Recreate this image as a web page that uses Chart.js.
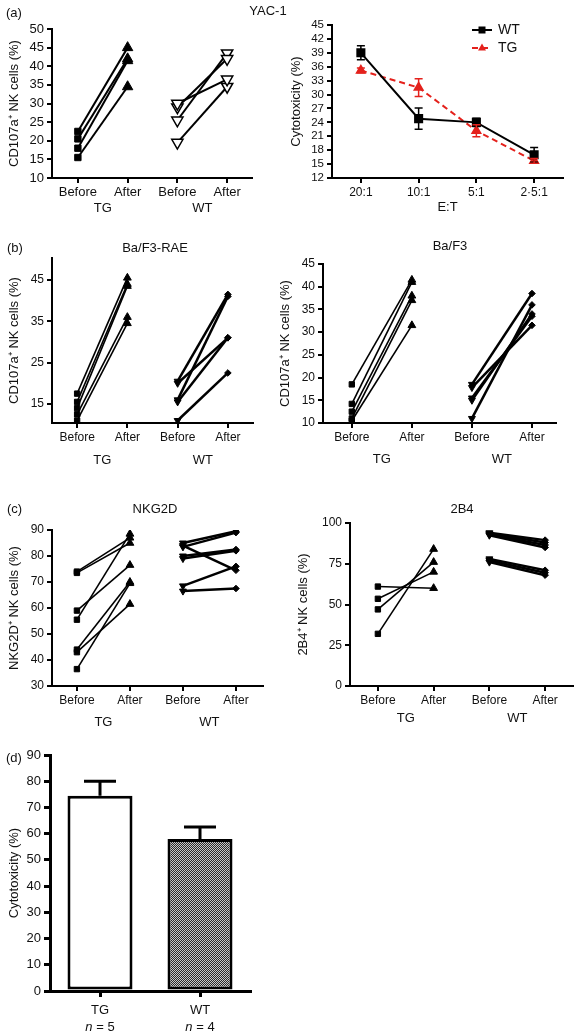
<!DOCTYPE html>
<html>
<head>
<meta charset="utf-8">
<script src="https://cdn.jsdelivr.net/npm/chart.js@4.4.0/dist/chart.umd.min.js"></script>
<style>
  body { margin: 0; background: #fff; width: 576px; height: 1033px; position: relative; overflow: hidden;
         font-family: "Liberation Sans", Arial, sans-serif; }
  canvas { position: absolute; }
  .lbl { position: absolute; font-size: 13px; color: #111; white-space: nowrap; line-height: 1;
         transform: translateY(-50%); z-index: 2; }
  .c { transform: translate(-50%, -50%); }
</style>
</head>
<body>
<canvas id="yacPairs"></canvas>
<canvas id="yacCyto"></canvas>
<canvas id="raePairs"></canvas>
<canvas id="baPairs"></canvas>
<canvas id="nkgPairs"></canvas>
<canvas id="b4Pairs"></canvas>
<canvas id="killBars"></canvas>

<div class="lbl" style="left:6px;top:12px">(a)</div>
<div class="lbl c" style="left:268px;top:10px">YAC-1</div>
<div class="lbl" style="left:7px;top:247px">(b)</div>
<div class="lbl c" style="left:155px;top:247px">Ba/F3-RAE</div>
<div class="lbl c" style="left:450px;top:245px">Ba/F3</div>
<div class="lbl" style="left:7px;top:508px">(c)</div>
<div class="lbl c" style="left:155px;top:508px">NKG2D</div>
<div class="lbl c" style="left:462px;top:508px">2B4</div>
<div class="lbl" style="left:6px;top:757px">(d)</div>

<script>
// ---- data ----
const phaseLabels = ['Before', 'After', 'Before', 'After'];
const groupNames = ['TG', 'WT'];

// (a) YAC-1, CD107a+ NK cells (%)
const yacTgBefore = [22.5, 20.5, 18, 15.5];
const yacTgAfter  = [45, 42, 41.5, 34.5];
const yacWtBefore = [30, 29, 25.5, 19.5];
const yacWtAfter  = [36.5, 42, 43.5, 34.5];

// (a) cytotoxicity vs E:T
const etLabels  = ['20:1', '10:1', '5:1', '2·5:1'];
const cytoWt    = [39, 24.8, 24, 17];
const cytoWtErr = [1.5, 2.3, 0.9, 1.6];
const cytoTg    = [35.2, 31.5, 22.2, 15.7];
const cytoTgErr = [0.5, 1.9, 1.3, 0.5];

// (b) Ba/F3-RAE
const raeTgBefore = [17.5, 15.5, 14, 12.5, 11];
const raeTgAfter  = [45.5, 44, 43.5, 36, 34.5];
const raeWtBefore = [20.5, 20, 16, 15.5, 11];
const raeWtAfter  = [41.5, 31, 41, 31, 22.5];

// (b) Ba/F3
const baTgBefore = [18.5, 14.2, 12.5, 11, 10.5];
const baTgAfter  = [41.5, 41, 38, 37, 31.5];
const baWtBefore = [18.5, 17.8, 15.5, 15, 11];
const baWtAfter  = [38.5, 31.5, 33.5, 34, 36];

// (c) NKG2D
const nkgTgBefore = [74, 73.5, 59, 55.5, 44, 43, 36.5];
const nkgTgAfter  = [87, 85, 76.5, 88.5, 70, 61.5, 69.5];
const nkgWtBefore = [85, 84, 83.5, 80, 79, 68.5, 66.5];
const nkgWtAfter  = [89.5, 74.5, 89, 82.5, 82, 76, 67.5];

// (c) 2B4
const b4TgBefore = [61, 53.5, 47, 32];
const b4TgAfter  = [60, 70, 76, 84];
const b4WtBefore = [94, 93.5, 93, 92.5, 78, 77, 76];
const b4WtAfter  = [89.5, 88, 86.5, 85, 71, 69.5, 68];

// (d) cytotoxicity
const killN    = [5, 4];
const killMean = [74.5, 58];
const killSem  = [5.5, 4.5];

// ---- setup ----
Chart.defaults.font.family = '"Liberation Sans", Arial, sans-serif';
Chart.defaults.color = '#111';
Chart.defaults.animation = false;
Chart.defaults.events = [];
Chart.defaults.plugins.legend.display = false;
Chart.defaults.plugins.tooltip.enabled = false;

const PAD = 16;

function place(id, box) {
  const c = document.getElementById(id);
  const top = box.y0 - PAD;
  c.width = box.x1 + PAD - box.L;
  c.height = box.y1 - top + box.xh;
  c.style.left = box.L + 'px';
  c.style.top = top + 'px';
  return c;
}

// labels under the x axis (TG / WT, or the n = line)
const groupLabels = {
  id: 'groupLabels',
  afterDraw(chart, args, o) {
    if (!o.items) return;
    const ctx = chart.ctx, xs = chart.scales.x;
    ctx.save();
    ctx.fillStyle = '#111';
    ctx.textBaseline = 'middle';
    o.items.forEach(it => {
      const cx = xs.getPixelForValue(it.at);
      const y = chart.chartArea.bottom + o.dy;
      if (it.n !== undefined) {
        ctx.font = 'italic 13px "Liberation Sans", Arial, sans-serif';
        const w1 = ctx.measureText('n').width;
        ctx.font = '13px "Liberation Sans", Arial, sans-serif';
        const rest = ' = ' + it.n;
        const w2 = ctx.measureText(rest).width;
        const x0 = cx - (w1 + w2) / 2;
        ctx.textAlign = 'left';
        ctx.font = 'italic 13px "Liberation Sans", Arial, sans-serif';
        ctx.fillText('n', x0, y);
        ctx.font = '13px "Liberation Sans", Arial, sans-serif';
        ctx.fillText(rest, x0 + w1, y);
      } else {
        ctx.font = '13px "Liberation Sans", Arial, sans-serif';
        ctx.textAlign = 'center';
        ctx.fillText(it.text, cx, y);
      }
    });
    ctx.restore();
  }
};

const errorBars = {
  id: 'errorBars',
  afterDatasetsDraw(chart, args, o) {
    if (!o.cap) return;
    const ctx = chart.ctx, y = chart.scales.y;
    chart.data.datasets.forEach((ds, di) => {
      if (!ds.errors) return;
      const meta = chart.getDatasetMeta(di);
      ctx.save();
      ctx.strokeStyle = ds.errColor || ds.borderColor;
      ctx.lineWidth = o.width;
      meta.data.forEach((el, i) => {
        const v = ds.data[i], e = ds.errors[i];
        const yt = y.getPixelForValue(v + e);
        const yb = y.getPixelForValue(o.upOnly ? v : v - e);
        ctx.beginPath();
        ctx.moveTo(el.x, yt); ctx.lineTo(el.x, yb);
        ctx.moveTo(el.x - o.cap, yt); ctx.lineTo(el.x + o.cap, yt);
        if (!o.upOnly) { ctx.moveTo(el.x - o.cap, yb); ctx.lineTo(el.x + o.cap, yb); }
        ctx.stroke();
      });
      ctx.restore();
    });
  }
};

const lineLegend = {
  id: 'lineLegend',
  afterDraw(chart, args, o) {
    if (!o.left) return;
    const ctx = chart.ctx, area = chart.chartArea;
    chart.data.datasets.forEach((ds, i) => {
      const x = area.left + o.left, y = area.top + o.top + i * o.gap;
      ctx.save();
      ctx.strokeStyle = ds.borderColor;
      ctx.fillStyle = ds.borderColor;
      ctx.lineWidth = 2;
      ctx.setLineDash(ds.borderDash || []);
      ctx.beginPath(); ctx.moveTo(x, y); ctx.lineTo(x + 20, y); ctx.stroke();
      ctx.setLineDash([]);
      const m = x + 10;
      if (ds.pointStyle === 'rect') {
        ctx.fillRect(m - 3.5, y - 3.5, 7, 7);
      } else {
        ctx.beginPath();
        ctx.moveTo(m, y - 4.5); ctx.lineTo(m + 4, y + 2.5); ctx.lineTo(m - 4, y + 2.5);
        ctx.closePath(); ctx.fill();
      }
      ctx.fillStyle = '#111';
      ctx.font = '14px "Liberation Sans", Arial, sans-serif';
      ctx.textBaseline = 'middle';
      ctx.fillText(ds.label, x + 26, y);
      ctx.restore();
    });
  }
};

Chart.register(groupLabels, errorBars, lineLegend);

function yAxis(box, o) {
  const lw = o.lw || 2;
  return {
    type: 'linear', min: o.min, max: o.max,
    afterFit: s => { s.width = box.x0 - box.L; },
    afterBuildTicks: o.ticks ? s => { s.ticks = o.ticks.map(v => ({value: v})); } : undefined,
    ticks: {stepSize: o.step, autoSkip: false, font: {size: o.font || 12}, color: '#111', padding: 3},
    grid: {drawOnChartArea: false, color: '#000', lineWidth: lw, tickLength: o.tick || 5},
    border: {color: '#000', width: lw},
    title: {display: true, text: o.title, font: {size: 13}, color: '#111',
            padding: {top: box.titleX - box.L - 7.8, bottom: 0}}
  };
}

function xPairs(box, o) {
  return {
    type: 'linear', min: o.min, max: o.max,
    afterFit: s => { s.height = box.xh; },
    afterBuildTicks: s => { s.ticks = [0, 1, 2, 3].map(v => ({value: v})); },
    ticks: {callback: (v, i) => phaseLabels[i], font: {size: o.font || 12}, color: '#111', padding: 2, maxRotation: 0, autoSkip: false},
    grid: {drawOnChartArea: false, color: '#000', lineWidth: 2, tickLength: 5},
    border: {color: '#000', width: 2}
  };
}

function pairSets(before, after, group, look) {
  return before.map((b, i) => ({
    data: [{x: group * 2, y: b}, {x: group * 2 + 1, y: after[i]}],
    borderColor: '#000',
    borderWidth: look.line,
    pointStyle: look.style,
    pointRotation: look.rot,
    pointRadius: look.size,
    pointBackgroundColor: look.fill,
    pointBorderColor: '#000',
    pointBorderWidth: look.edge
  }));
}

const bigTg = {line: 2, style: ['rect', 'triangle'], rot: 0, size: [4.5, 6], fill: '#000', edge: 1};
const bigWt = {line: 2, style: 'triangle', rot: 180, size: 6.5, fill: '#fff', edge: 1.5};
const smallTg = {line: 1.6, style: ['rect', 'triangle'], rot: 0, size: [3.8, 4.5], fill: '#000', edge: 1};
const smallWt = {line: 2.5, style: ['triangle', 'rectRot'], rot: [180, 0], size: [4, 3.3], fill: '#000', edge: 1};

function pairChart(id, box, sets, yo, xo, dy) {
  const canvas = place(id, box);
  new Chart(canvas, {
    type: 'line',
    data: {datasets: sets},
    options: {
      responsive: false,
      layout: {padding: {top: PAD, right: PAD, left: 0, bottom: 0}},
      scales: {x: xPairs(box, xo), y: yAxis(box, yo)},
      plugins: {groupLabels: {dy: dy, items: [{text: groupNames[0], at: 0.5}, {text: groupNames[1], at: 2.5}]}}
    }
  });
}

// (a) left
const boxA1 = {L: 0, x0: 52, x1: 252, y0: 29, y1: 178, xh: 40, titleX: 14};
pairChart('yacPairs', boxA1,
  [...pairSets(yacTgBefore, yacTgAfter, 0, bigTg), ...pairSets(yacWtBefore, yacWtAfter, 1, bigWt)],
  {min: 10, max: 50, step: 5, font: 13, title: 'CD107a⁺ NK cells (%)'},
  {min: -0.52, max: 3.5, font: 13}, 30);

// (a) right
const boxA2 = {L: 272, x0: 332, x1: 563, y0: 25, y1: 178, xh: 40, titleX: 296};
new Chart(place('yacCyto', boxA2), {
  type: 'line',
  data: {
    labels: etLabels,
    datasets: [
      {label: 'WT', data: cytoWt, errors: cytoWtErr, borderColor: '#000', borderWidth: 2,
       pointStyle: 'rect', pointRadius: 5, pointBackgroundColor: '#000', pointBorderColor: '#000'},
      {label: 'TG', data: cytoTg, errors: cytoTgErr, borderColor: '#e4211c', borderWidth: 2, borderDash: [6, 4],
       pointStyle: 'triangle', pointRadius: 4.5, pointBackgroundColor: '#e4211c', pointBorderColor: '#e4211c'}
    ]
  },
  options: {
    responsive: false,
    layout: {padding: {top: PAD, right: PAD, left: 0, bottom: 0}},
    scales: {
      x: {
        type: 'category', offset: true,
        afterFit: s => { s.height = boxA2.xh; },
        ticks: {font: {size: 12}, color: '#111', padding: 2, maxRotation: 0},
        grid: {drawOnChartArea: false, offset: false, color: '#000', lineWidth: 2, tickLength: 5},
        border: {color: '#000', width: 2},
        title: {display: true, text: 'E:T', font: {size: 13}, color: '#111', padding: {top: 0, bottom: 3}}
      },
      y: yAxis(boxA2, {min: 12, max: 45, step: 3, font: 11.5, title: 'Cytotoxicity (%)'})
    },
    plugins: {
      errorBars: {cap: 4, width: 1.5},
      lineLegend: {left: 140, top: 5, gap: 18}
    }
  }
});

// (b) left
const boxB1 = {L: 0, x0: 52, x1: 253, y0: 258, y1: 423, xh: 45, titleX: 14};
pairChart('raePairs', boxB1,
  [...pairSets(raeTgBefore, raeTgAfter, 0, smallTg), ...pairSets(raeWtBefore, raeWtAfter, 1, smallWt)],
  {min: 10.4, max: 50.3, ticks: [15, 25, 35, 45], title: 'CD107a⁺ NK cells (%)'},
  {min: -0.5, max: 3.5}, 37);

// (b) right
const boxB2 = {L: 272, x0: 323, x1: 556, y0: 264, y1: 423, xh: 45, titleX: 285};
pairChart('baPairs', boxB2,
  [...pairSets(baTgBefore, baTgAfter, 0, smallTg), ...pairSets(baWtBefore, baWtAfter, 1, smallWt)],
  {min: 10, max: 45, step: 5, title: 'CD107a⁺ NK cells (%)'},
  {min: -0.48, max: 3.4}, 36);

// (c) left
const boxC1 = {L: 0, x0: 52, x1: 263, y0: 530, y1: 686, xh: 45, titleX: 14};
pairChart('nkgPairs', boxC1,
  [...pairSets(nkgTgBefore, nkgTgAfter, 0, smallTg), ...pairSets(nkgWtBefore, nkgWtAfter, 1, smallWt)],
  {min: 30, max: 90, step: 10, title: 'NKG2D⁺ NK cells (%)'},
  {min: -0.47, max: 3.51}, 36);

// (c) right
const boxC2 = {L: 272, x0: 350, x1: 573, y0: 523, y1: 686, xh: 45, titleX: 303};
pairChart('b4Pairs', boxC2,
  [...pairSets(b4TgBefore, b4TgAfter, 0, smallTg), ...pairSets(b4WtBefore, b4WtAfter, 1, smallWt)],
  {min: 0, max: 100, step: 25, title: '2B4⁺ NK cells (%)'},
  {min: -0.5, max: 3.5}, 32);

// (d) bars
const boxD = {L: 0, x0: 50, x1: 250, y0: 755, y1: 991, xh: 42, titleX: 14};
const killCanvas = place('killBars', boxD);
const tile = document.createElement('canvas');
tile.width = 2; tile.height = 2;
const tg = tile.getContext('2d');
tg.fillStyle = '#c8c8c8'; tg.fillRect(0, 0, 2, 2);
tg.fillStyle = '#2a2a2a'; tg.fillRect(0, 0, 1, 1); tg.fillRect(1, 1, 1, 1);
const checker = killCanvas.getContext('2d').createPattern(tile, 'repeat');

new Chart(killCanvas, {
  type: 'bar',
  data: {
    labels: groupNames,
    datasets: [{
      data: killMean, errors: killSem, errColor: '#000',
      backgroundColor: ['#fff', checker], borderColor: '#000', borderWidth: 3, borderSkipped: false,
      barPercentage: 0.65, categoryPercentage: 1
    }]
  },
  options: {
    responsive: false,
    layout: {padding: {top: PAD, right: PAD, left: 0, bottom: 0}},
    scales: {
      x: {
        type: 'category', offset: true,
        afterFit: s => { s.height = boxD.xh; },
        ticks: {font: {size: 13}, color: '#111', padding: 6, maxRotation: 0},
        grid: {drawOnChartArea: false, offset: false, color: '#000', lineWidth: 3, tickLength: 6},
        border: {color: '#000', width: 3}
      },
      y: yAxis(boxD, {min: 0, max: 90, step: 10, font: 13, lw: 3, tick: 6, title: 'Cytotoxicity (%)'})
    },
    plugins: {
      errorBars: {cap: 16, width: 3, upOnly: true},
      groupLabels: {dy: 36, items: killN.map((n, i) => ({at: i, n: n}))}
    }
  }
});
</script>
</body>
</html>
